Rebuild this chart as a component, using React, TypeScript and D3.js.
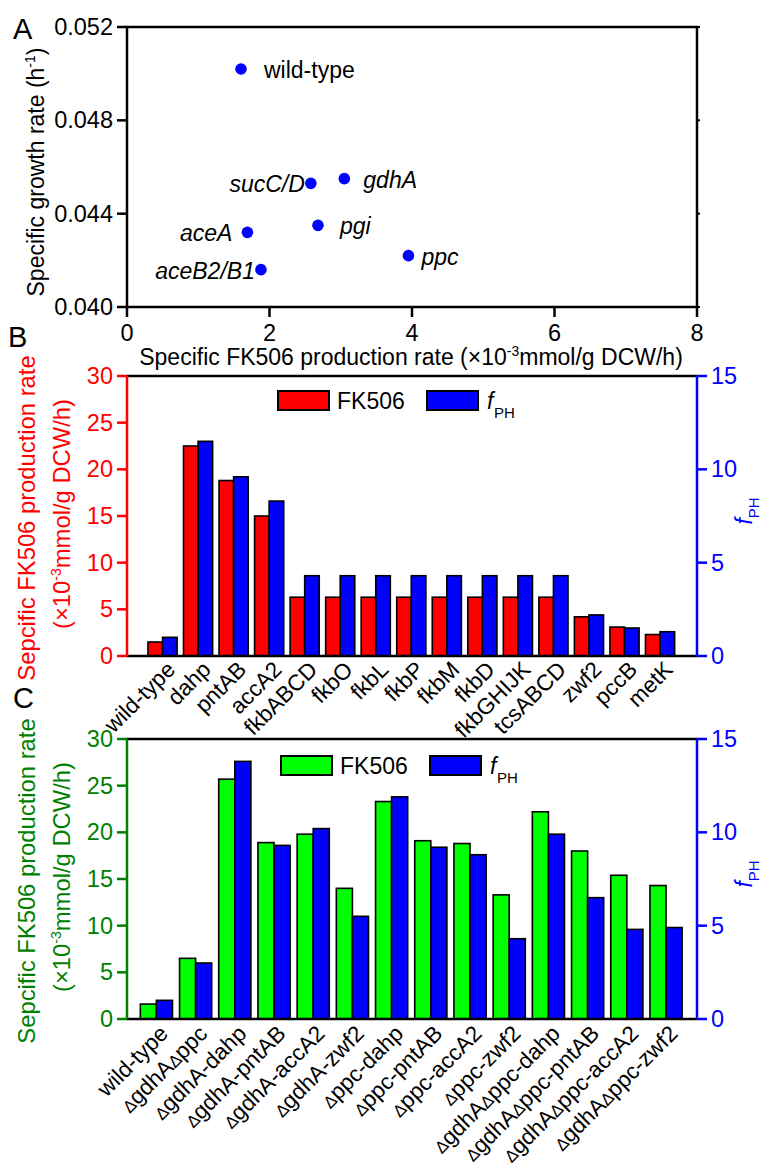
import React from 'react';
import * as d3 from 'd3';

// ---------- Panel A data ----------
const scatterNames = ['wild-type', 'sucC/D', 'gdhA', 'aceA', 'pgi', 'ppc', 'aceB2/B1'];
const scatterX = [1.6, 2.58, 3.05, 1.69, 2.68, 3.95, 1.88];
const scatterY = [0.0502, 0.0453, 0.0455, 0.0432, 0.0435, 0.0422, 0.0416];
const scatterItalic = [false, true, true, true, true, true, true];
const scatterLabelDx = [23, -6, 19, -15, 22, 13, -6];
const xTicksA = [0, 2, 4, 6, 8];
const yTicksA = [0.04, 0.044, 0.048, 0.052];

// ---------- Panel B data ----------
const catsB = ['wild-type', 'dahp', 'pntAB', 'accA2', 'fkbABCD', 'fkbO', 'fkbL', 'fkbP', 'fkbM', 'fkbD', 'fkbGHIJK', 'tcsABCD', 'zwf2', 'pccB', 'metK'];
const fk506B = [1.5, 22.5, 18.8, 15.0, 6.3, 6.3, 6.3, 6.3, 6.3, 6.3, 6.3, 6.3, 4.2, 3.1, 2.3];
const fphB = [1.0, 11.5, 9.6, 8.3, 4.3, 4.3, 4.3, 4.3, 4.3, 4.3, 4.3, 4.3, 2.2, 1.5, 1.3];

// ---------- Panel C data ----------
const catsC = ['wild-type', 'ΔgdhAΔppc', 'ΔgdhA-dahp', 'ΔgdhA-pntAB', 'ΔgdhA-accA2', 'ΔgdhA-zwf2', 'Δppc-dahp', 'Δppc-pntAB', 'Δppc-accA2', 'Δppc-zwf2', 'ΔgdhAΔppc-dahp', 'ΔgdhAΔppc-pntAB', 'ΔgdhAΔppc-accA2', 'ΔgdhAΔppc-zwf2'];
const fk506C = [1.6, 6.5, 25.7, 18.9, 19.8, 14.0, 23.3, 19.1, 18.8, 13.3, 22.2, 18.0, 15.4, 14.3];
const fphC = [1.0, 3.0, 13.8, 9.3, 10.2, 5.5, 11.9, 9.2, 8.8, 4.3, 9.9, 6.5, 4.8, 4.9];

const leftTicks = [0, 5, 10, 15, 20, 25, 30];
const rightTicks = [0, 5, 10, 15];

const FONT = 'Liberation Sans, Arial, Helvetica, sans-serif';
const RED = '#ff0000';
const BLUE = '#0000ff';
const GREEN = '#00ff00';
const DKGREEN = '#008000';

const L = 127;
const R = 697;

function renderLabel(s: string) {
  const parts = s.split(/(Δ)/).filter((p) => p.length > 0);
  return parts.map((p, i) =>
    p === 'Δ' ? <tspan key={i} fontSize={17}>Δ</tspan> : <tspan key={i}>{p}</tspan>
  );
}

function ScatterPanel() {
  const x = d3.scaleLinear().domain([0, 8]).range([L, R]);
  const y = d3.scaleLinear().domain([0.04, 0.052]).range([307, 27]);
  return (
    <g>
      <rect x={L} y={27} width={R - L} height={280} fill="none" stroke="#000" strokeWidth={2.5} />
      {yTicksA.map((t) => (
        <g key={t}>
          <line x1={L - 10} x2={L} y1={y(t)} y2={y(t)} stroke="#000" strokeWidth={2.5} />
          <line x1={R} x2={R + 3} y1={y(t)} y2={y(t)} stroke="#000" strokeWidth={2} />
          <text x={L - 14} y={y(t) + 8} textAnchor="end" fontSize={23.5}>{d3.format('.3f')(t)}</text>
        </g>
      ))}
      {xTicksA.map((t) => (
        <g key={t}>
          <line x1={x(t)} x2={x(t)} y1={307} y2={317} stroke="#000" strokeWidth={2.5} />
          <text x={x(t)} y={341} textAnchor="middle" fontSize={23.5}>{t}</text>
        </g>
      ))}
      {scatterNames.map((n, i) => {
        const px = x(scatterX[i]);
        const py = y(scatterY[i]);
        const dx = scatterLabelDx[i];
        return (
          <g key={n}>
            <circle cx={px} cy={py} r={5.8} fill={BLUE} />
            <text x={px + dx} y={py + 9} textAnchor={dx < 0 ? 'end' : 'start'} fontSize={23}
              fontStyle={scatterItalic[i] ? 'italic' : 'normal'}>{n}</text>
          </g>
        );
      })}
      <text transform={`translate(44,172) rotate(-90)`} textAnchor="middle" fontSize={23}>
        Specific growth rate (h<tspan dy={-9} fontSize={14}>-1</tspan><tspan dy={9}>)</tspan>
      </text>
      <text x={411} y={365} textAnchor="middle" fontSize={23}>
        Specific FK506 production rate (×10<tspan dy={-9} fontSize={14}>-3</tspan><tspan dy={9}>mmol/g DCW/h)</tspan>
      </text>
    </g>
  );
}

interface BarProps {
  cats: string[];
  v1: number[];
  v2: number[];
  top: number;
  bottom: number;
  dom: [number, number];
  c1: string;
  axisColor: string;
  legendY: number;
  legendX: number;
  labelDx: number;
  labelDy: number;
  labelCenterY: number;
}

function BarPanel(p: BarProps) {
  const x = d3.scaleLinear().domain(p.dom).range([L, R]);
  const yl = d3.scaleLinear().domain([0, 30]).range([p.bottom, p.top]);
  const yr = d3.scaleLinear().domain([0, 15]).range([p.bottom, p.top]);
  const bw = 0.41 * (x(1) - x(0));
  return (
    <g>
      {p.cats.map((c, i) => {
        const cx = x(i);
        return (
          <g key={c}>
            <rect x={cx - bw} y={yl(p.v1[i])} width={bw} height={p.bottom - yl(p.v1[i])} fill={p.c1} stroke="#000" strokeWidth={1.6} />
            <rect x={cx} y={yr(p.v2[i])} width={bw} height={p.bottom - yr(p.v2[i])} fill={BLUE} stroke="#000" strokeWidth={1.6} />
            <text transform={`translate(${cx + p.labelDx},${p.bottom + p.labelDy}) rotate(-45)`} textAnchor="end"
              fontSize={22.5}>{renderLabel(c)}</text>
          </g>
        );
      })}
      <line x1={L} x2={R} y1={p.top} y2={p.top} stroke="#000" strokeWidth={2.5} />
      <line x1={L} x2={R} y1={p.bottom} y2={p.bottom} stroke="#000" strokeWidth={2.5} />
      <line x1={L} x2={L} y1={p.top} y2={p.bottom} stroke={p.axisColor} strokeWidth={2.5} />
      <line x1={R} x2={R} y1={p.top} y2={p.bottom} stroke={BLUE} strokeWidth={2.5} />
      {leftTicks.map((t) => (
        <g key={t}>
          <line x1={L - 10} x2={L} y1={yl(t)} y2={yl(t)} stroke={p.axisColor} strokeWidth={2.5} />
          <text x={L - 14} y={yl(t) + 8} textAnchor="end" fontSize={23.5} fill={p.axisColor}>{t}</text>
        </g>
      ))}
      {rightTicks.map((t) => (
        <g key={t}>
          <line x1={R} x2={R + 10} y1={yr(t)} y2={yr(t)} stroke={BLUE} strokeWidth={2.5} />
          <text x={R + 14} y={yr(t) + 8} textAnchor="start" fontSize={23.5} fill={BLUE}>{t}</text>
        </g>
      ))}
      {/* legend */}
      <rect x={p.legendX} y={p.legendY} width={51} height={19} fill={p.c1} stroke="#000" strokeWidth={2} />
      <text x={p.legendX + 59} y={p.legendY + 18} fontSize={23}>FK506</text>
      <rect x={p.legendX + 149} y={p.legendY} width={51} height={19} fill={BLUE} stroke="#000" strokeWidth={2} />
      <text x={p.legendX + 209} y={p.legendY + 18} fontSize={23} fontStyle="italic">f</text>
      <text x={p.legendX + 216} y={p.legendY + 27} fontSize={15}>PH</text>
      {/* axis titles */}
      <text transform={`translate(35,${p.labelCenterY + 4}) rotate(-90)`} textAnchor="middle" fontSize={23.8} fill={p.axisColor}>
        Sepcific FK506 production rate
      </text>
      <text transform={`translate(70,${p.labelCenterY}) rotate(-90)`} textAnchor="middle" fontSize={23.8} fill={p.axisColor}>
        (×10<tspan dy={-9} fontSize={14}>-3</tspan><tspan dy={9}>mmol/g DCW/h)</tspan>
      </text>
      <text transform={`translate(752,${p.labelCenterY - 3}) rotate(-90)`} textAnchor="middle" fontSize={23} fill={BLUE}>
        <tspan fontStyle="italic">f</tspan><tspan dy={7} fontSize={15}>PH</tspan>
      </text>
    </g>
  );
}

export default function App() {
  return (
    <svg width={761} height={1172} viewBox="0 0 761 1172"
      style={{ position: 'absolute', left: 0, top: 0, background: '#fff' }}
      fontFamily={FONT}>
      <rect x={0} y={0} width={761} height={1172} fill="#fff" />
      <text x={13} y={39} fontSize={29}>A</text>
      <text x={8} y={347} fontSize={29}>B</text>
      <text x={13} y={708} fontSize={29}>C</text>
      <ScatterPanel />
      <BarPanel cats={catsB} v1={fk506B} v2={fphB} top={376} bottom={656} dom={[-1, 15.04]}
        c1={RED} axisColor={RED} legendX={278} legendY={391} labelDx={14} labelDy={15} labelCenterY={514} />
      <BarPanel cats={catsC} v1={fk506C} v2={fphC} top={739} bottom={1019} dom={[-0.75, 13.79]}
        c1={GREEN} axisColor={DKGREEN} legendX={281} legendY={756} labelDx={13} labelDy={16} labelCenterY={877} />
    </svg>
  );
}
